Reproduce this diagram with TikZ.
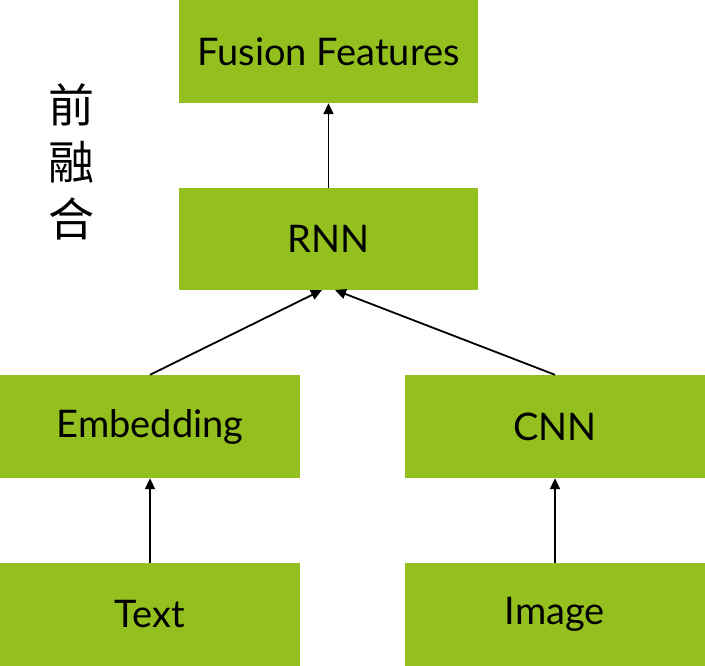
\documentclass[tikz,border=0pt]{standalone}
\usepackage{fontspec}
\setmainfont{Lato}
\newfontfamily\cjk{Noto Sans CJK SC}
\usetikzlibrary{arrows.meta}
\definecolor{boxgreen}{HTML}{93C01F}
\begin{document}
\begin{tikzpicture}[x=1pt,y=-1pt,
  gbox/.style={fill=boxgreen, draw=none, minimum width=300pt, minimum height=103pt, inner sep=0pt, font=\fontsize{38}{42}\selectfont, text=black},
  conn/.style={-{Triangle[length=11pt,width=10pt]}, line width=1.8pt, black}]
\useasboundingbox (0,0) rectangle (705,666);
\node[gbox, minimum width=299pt] (fusion) at (328.5,51.5) {Fusion Features};
\node[gbox, minimum width=299pt, minimum height=102pt] (rnn) at (328.5,239) {RNN};
\node[gbox] (emb) at (150,426.5) {Embedding};
\node[gbox] (cnn) at (555,426.5) {CNN};
\node[gbox] (text) at (150,614.5) {Text};
\node[gbox] (image) at (555,614.5) {Image};
\node[font=\cjk\fontsize{46}{57}\selectfont, align=center, inner sep=0pt] (zh) at (71,162) {前\\融\\合};
\coordinate (rnnL) at (322,290);
\coordinate (rnnR) at (335,290);
\draw[conn] (emb.north) -- (rnnL);
\draw[conn] (cnn.north) -- (rnnR);
\draw[conn] (rnn.north) -- (fusion.south);
\draw[conn] (text.north) -- (emb.south);
\draw[conn] (image.north) -- (cnn.south);
\end{tikzpicture}
\end{document}
